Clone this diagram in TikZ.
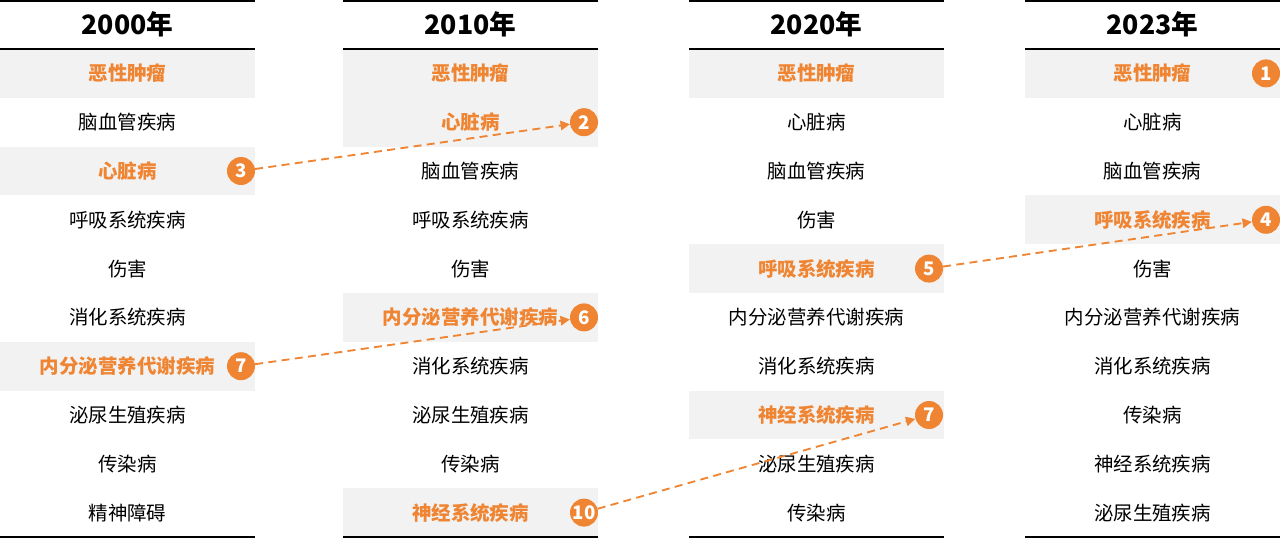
\documentclass[tikz,border=0pt]{standalone}
\usepackage{fontspec}
\setmainfont{Noto Sans CJK SC}
\usetikzlibrary{arrows.meta}
\definecolor{hl}{HTML}{EF8533}
\definecolor{bandgrey}{HTML}{F2F2F2}
\newcommand\cellrow[5]{\node[#4] (#1r#3) at ({#2+127.5},{49+48.8*(#3-0.5)}) {#5};}
\newcommand\bandfill[2]{\fill[bandgrey] (#1,{49+48.8*(#2-1)}) rectangle ({#1+255},{49+48.8*#2});}
\newcommand\badgeat[4]{\node[badge] (#1) at ({#2+241},{49+48.8*(#3-0.5)}) {#4};}
\newcommand\colframe[3]{%
  \draw[rulestyle] (#2,1.2) -- ({#2+255},1.2);
  \draw[rulestyle] (#2,49) -- ({#2+255},49);
  \draw[rulestyle] (#2,536.8) -- ({#2+255},536.8);
  \node[head] (#1h) at ({#2+127.5},24) {#3};}
\begin{document}
\begin{tikzpicture}[x=0.75pt,y=-0.75pt,
 item/.style={font=\fontsize{14.6}{18}\selectfont, inner sep=0pt},
 hitem/.style={font=\fontsize{14.6}{18}\selectfont\bfseries, text=hl, inner sep=0pt},
 head/.style={font=\fontsize{20}{24}\selectfont\bfseries, inner sep=0pt},
 badge/.style={circle, fill=hl, text=white, font=\fontsize{14}{14}\selectfont\bfseries, minimum size=21pt, inner sep=0pt},
 link/.style={hl, line width=1.4pt, dash pattern=on 6pt off 4pt, -{Triangle[length=7pt,width=7pt]}},
 rulestyle/.style={line width=1.5pt, black}]
\useasboundingbox (0,0) rectangle (1280,538);
% bands
\bandfill{0}{1}\bandfill{0}{3}\bandfill{0}{7}
\bandfill{343}{1}\bandfill{343}{2}\bandfill{343}{6}\bandfill{343}{10}
\bandfill{689}{1}\bandfill{689}{5}\bandfill{689}{8}
\bandfill{1025}{1}\bandfill{1025}{4}
% frames
\colframe{a}{0}{2000年}
\colframe{b}{343}{2010年}
\colframe{c}{689}{2020年}
\colframe{d}{1025}{2023年}
% column 2000
\cellrow{a}{0}{1}{hitem}{恶性肿瘤}
\cellrow{a}{0}{2}{item}{脑血管疾病}
\cellrow{a}{0}{3}{hitem}{心脏病}
\cellrow{a}{0}{4}{item}{呼吸系统疾病}
\cellrow{a}{0}{5}{item}{伤害}
\cellrow{a}{0}{6}{item}{消化系统疾病}
\cellrow{a}{0}{7}{hitem}{内分泌营养代谢疾病}
\cellrow{a}{0}{8}{item}{泌尿生殖疾病}
\cellrow{a}{0}{9}{item}{传染病}
\cellrow{a}{0}{10}{item}{精神障碍}
% column 2010
\cellrow{b}{343}{1}{hitem}{恶性肿瘤}
\cellrow{b}{343}{2}{hitem}{心脏病}
\cellrow{b}{343}{3}{item}{脑血管疾病}
\cellrow{b}{343}{4}{item}{呼吸系统疾病}
\cellrow{b}{343}{5}{item}{伤害}
\cellrow{b}{343}{6}{hitem}{内分泌营养代谢疾病}
\cellrow{b}{343}{7}{item}{消化系统疾病}
\cellrow{b}{343}{8}{item}{泌尿生殖疾病}
\cellrow{b}{343}{9}{item}{传染病}
\cellrow{b}{343}{10}{hitem}{神经系统疾病}
% column 2020
\cellrow{c}{689}{1}{hitem}{恶性肿瘤}
\cellrow{c}{689}{2}{item}{心脏病}
\cellrow{c}{689}{3}{item}{脑血管疾病}
\cellrow{c}{689}{4}{item}{伤害}
\cellrow{c}{689}{5}{hitem}{呼吸系统疾病}
\cellrow{c}{689}{6}{item}{内分泌营养代谢疾病}
\cellrow{c}{689}{7}{item}{消化系统疾病}
\cellrow{c}{689}{8}{hitem}{神经系统疾病}
\cellrow{c}{689}{9}{item}{泌尿生殖疾病}
\cellrow{c}{689}{10}{item}{传染病}
% column 2023
\cellrow{d}{1025}{1}{hitem}{恶性肿瘤}
\cellrow{d}{1025}{2}{item}{心脏病}
\cellrow{d}{1025}{3}{item}{脑血管疾病}
\cellrow{d}{1025}{4}{hitem}{呼吸系统疾病}
\cellrow{d}{1025}{5}{item}{伤害}
\cellrow{d}{1025}{6}{item}{内分泌营养代谢疾病}
\cellrow{d}{1025}{7}{item}{消化系统疾病}
\cellrow{d}{1025}{8}{item}{传染病}
\cellrow{d}{1025}{9}{item}{神经系统疾病}
\cellrow{d}{1025}{10}{item}{泌尿生殖疾病}
% badges
\badgeat{na3}{0}{3}{3}
\badgeat{na7}{0}{7}{7}
\badgeat{nb2}{343}{2}{2}
\badgeat{nb6}{343}{6}{6}
\badgeat{nb10}{343}{10}{10}
\badgeat{nc5}{688}{5}{5}
\badgeat{nc8}{688}{8}{7}
\badgeat{nd1}{1025}{1}{1}
\badgeat{nd4}{1025}{4}{4}
% links
\draw[link] (na3) -- (nb2);
\draw[link] (na7) -- (nb6);
\draw[link] (nb10) -- (nc8);
\draw[link] (nc5) -- (nd4);
\end{tikzpicture}
\end{document}
